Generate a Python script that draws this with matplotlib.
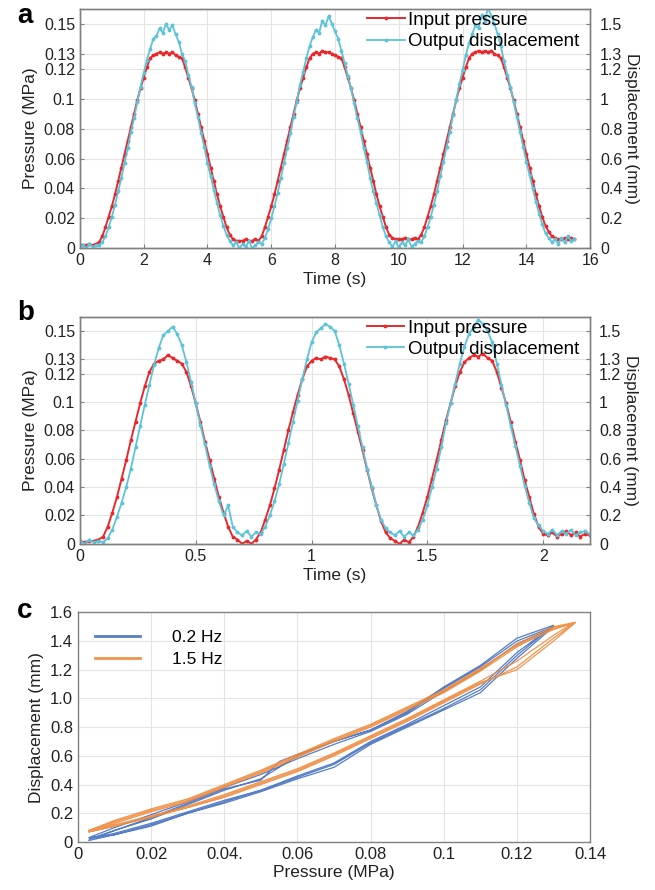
import numpy as np
import matplotlib
matplotlib.use("Agg")
import matplotlib.pyplot as plt

plt.rcParams['font.family'] = ['Liberation Sans', 'DejaVu Sans']

# ---------------- data ----------------
# panel a: sampled every 0.1 s from 0 to 15.5 s
time_a = np.round(np.arange(0, 15.55, 0.1), 2)
pressure_a = [
    0.002, 0.002, 0.002, 0.003, 0.002, 0.003, 0.004, 0.008, 0.014, 0.021,
    0.028, 0.036, 0.045, 0.054, 0.063, 0.072, 0.081, 0.090, 0.099, 0.107,
    0.114, 0.121, 0.127, 0.129, 0.130, 0.131, 0.130, 0.131, 0.130, 0.131,
    0.129, 0.128, 0.127, 0.121, 0.114, 0.107, 0.099, 0.090, 0.081, 0.072,
    0.063, 0.054, 0.045, 0.036, 0.028, 0.021, 0.014, 0.009, 0.006, 0.005,
    0.005, 0.005, 0.006, 0.005, 0.005, 0.006, 0.005, 0.008, 0.014, 0.021,
    0.028, 0.036, 0.045, 0.054, 0.063, 0.072, 0.081, 0.090, 0.099, 0.107,
    0.114, 0.121, 0.127, 0.130, 0.131, 0.130, 0.132, 0.131, 0.131, 0.130,
    0.129, 0.128, 0.127, 0.121, 0.114, 0.107, 0.099, 0.090, 0.081, 0.072,
    0.063, 0.054, 0.045, 0.036, 0.028, 0.021, 0.014, 0.009, 0.007, 0.006,
    0.006, 0.006, 0.007, 0.006, 0.006, 0.007, 0.006, 0.009, 0.014, 0.021,
    0.028, 0.036, 0.045, 0.054, 0.063, 0.072, 0.081, 0.090, 0.099, 0.107,
    0.114, 0.121, 0.127, 0.130, 0.131, 0.132, 0.131, 0.132, 0.131, 0.132,
    0.130, 0.129, 0.127, 0.121, 0.114, 0.107, 0.099, 0.090, 0.081, 0.072,
    0.063, 0.054, 0.045, 0.036, 0.028, 0.021, 0.015, 0.011, 0.008, 0.007,
    0.006, 0.006, 0.007, 0.006, 0.007, 0.006,
]
displacement_a = [
    0.01, 0.02, 0.00, 0.03, 0.01, 0.02, 0.02, 0.04, 0.08, 0.14,
    0.21, 0.29, 0.38, 0.47, 0.57, 0.67, 0.78, 0.87, 0.98, 1.08,
    1.17, 1.26, 1.33, 1.40, 1.42, 1.47, 1.44, 1.50, 1.46, 1.49,
    1.43, 1.38, 1.30, 1.25, 1.16, 1.08, 0.97, 0.88, 0.77, 0.68,
    0.57, 0.48, 0.39, 0.30, 0.22, 0.15, 0.09, 0.05, 0.02, 0.04,
    0.00, 0.03, 0.01, 0.05, 0.00, 0.02, 0.04, 0.03, 0.07, 0.13,
    0.20, 0.28, 0.37, 0.47, 0.57, 0.67, 0.77, 0.88, 0.98, 1.09,
    1.18, 1.27, 1.35, 1.41, 1.46, 1.44, 1.52, 1.49, 1.55, 1.50,
    1.45, 1.40, 1.32, 1.24, 1.15, 1.07, 0.97, 0.87, 0.78, 0.67,
    0.58, 0.47, 0.38, 0.30, 0.22, 0.14, 0.08, 0.04, 0.01, 0.05,
    0.00, 0.04, 0.02, 0.06, 0.01, 0.03, 0.05, 0.04, 0.08, 0.14,
    0.21, 0.29, 0.38, 0.48, 0.58, 0.68, 0.78, 0.89, 0.99, 1.10,
    1.19, 1.29, 1.37, 1.43, 1.49, 1.47, 1.56, 1.52, 1.61, 1.55,
    1.50, 1.43, 1.35, 1.25, 1.16, 1.08, 0.98, 0.88, 0.78, 0.68,
    0.58, 0.49, 0.40, 0.31, 0.23, 0.16, 0.10, 0.07, 0.04, 0.06,
    0.03, 0.07, 0.04, 0.08, 0.05, 0.06,
]

# panel b: sampled every 0.02 s from 0 to 2.2 s
time_b = np.round(np.arange(0, 2.201, 0.02), 3)
pressure_b = [
    0.002, 0.001, 0.002, 0.002, 0.003, 0.005, 0.012, 0.022, 0.033, 0.046,
    0.059, 0.073, 0.086, 0.099, 0.111, 0.121, 0.127, 0.129, 0.130, 0.133,
    0.131, 0.129, 0.127, 0.121, 0.111, 0.099, 0.086, 0.072, 0.059, 0.046,
    0.033, 0.022, 0.012, 0.005, 0.003, 0.000, 0.002, 0.000, 0.003, 0.008,
    0.017, 0.027, 0.039, 0.052, 0.066, 0.080, 0.093, 0.105, 0.116, 0.125,
    0.129, 0.131, 0.130, 0.132, 0.131, 0.130, 0.125, 0.116, 0.105, 0.092,
    0.079, 0.066, 0.052, 0.039, 0.027, 0.016, 0.008, 0.004, 0.002, 0.000,
    0.003, 0.001, 0.005, 0.012, 0.022, 0.033, 0.046, 0.059, 0.073, 0.087,
    0.099, 0.111, 0.121, 0.128, 0.131, 0.133, 0.132, 0.134, 0.131, 0.129,
    0.121, 0.110, 0.099, 0.086, 0.072, 0.059, 0.045, 0.033, 0.021, 0.012,
    0.007, 0.006, 0.008, 0.005, 0.007, 0.009, 0.006, 0.008, 0.005, 0.007,
    0.006,
]
displacement_b = [
    0.02, 0.00, 0.03, 0.01, 0.02, 0.01, 0.04, 0.10, 0.19, 0.29,
    0.40, 0.53, 0.68, 0.83, 0.98, 1.12, 1.26, 1.38, 1.47, 1.50,
    1.53, 1.48, 1.40, 1.28, 1.14, 0.99, 0.84, 0.70, 0.55, 0.42,
    0.30, 0.20, 0.27, 0.12, 0.08, 0.06, 0.09, 0.05, 0.08, 0.07,
    0.12, 0.20, 0.30, 0.42, 0.56, 0.71, 0.86, 1.01, 1.16, 1.30,
    1.42, 1.49, 1.52, 1.55, 1.53, 1.50, 1.40, 1.27, 1.13, 0.98,
    0.83, 0.68, 0.53, 0.40, 0.27, 0.17, 0.11, 0.08, 0.06, 0.09,
    0.05, 0.08, 0.06, 0.10, 0.17, 0.27, 0.40, 0.53, 0.68, 0.85,
    0.99, 1.13, 1.27, 1.39, 1.48, 1.53, 1.58, 1.55, 1.50, 1.42,
    1.27, 1.12, 0.98, 0.83, 0.69, 0.55, 0.41, 0.29, 0.18, 0.13,
    0.09, 0.07, 0.10, 0.06, 0.09, 0.07, 0.10, 0.06, 0.08, 0.09,
    0.07,
]

# panel c: hysteresis loops, three cycles each
blue_pressure = [
    0.003, 0.01, 0.02, 0.03, 0.04, 0.05, 0.06, 0.07, 0.075, 0.08, 0.09, 0.10, 0.11, 0.12, 0.13,
    0.12, 0.11, 0.10, 0.09, 0.08, 0.07, 0.06, 0.055, 0.05, 0.04, 0.03, 0.02, 0.01, 0.003,
    0.01, 0.02, 0.03, 0.04, 0.05, 0.06, 0.07, 0.08, 0.09, 0.10, 0.11, 0.12, 0.128,
    0.12, 0.11, 0.10, 0.09, 0.08, 0.07, 0.06, 0.05, 0.04, 0.03, 0.02, 0.01, 0.003,
    0.01, 0.02, 0.03, 0.04, 0.05, 0.06, 0.07, 0.08, 0.09, 0.10, 0.11, 0.12, 0.13,
    0.12, 0.11, 0.10, 0.09, 0.08, 0.07, 0.06, 0.05, 0.04, 0.03, 0.02, 0.01, 0.005,
]
blue_displacement = [
    0.01, 0.05, 0.11, 0.20, 0.27, 0.35, 0.44, 0.52, 0.60, 0.68, 0.80, 0.92, 1.04, 1.28, 1.50,
    1.40, 1.22, 1.07, 0.90, 0.78, 0.70, 0.61, 0.56, 0.43, 0.37, 0.27, 0.17, 0.08, 0.02,
    0.06, 0.13, 0.21, 0.29, 0.36, 0.46, 0.55, 0.70, 0.82, 0.95, 1.08, 1.32, 1.47,
    1.38, 1.20, 1.05, 0.89, 0.77, 0.68, 0.58, 0.47, 0.38, 0.28, 0.19, 0.10, 0.03,
    0.05, 0.12, 0.20, 0.28, 0.36, 0.45, 0.54, 0.69, 0.81, 0.93, 1.06, 1.30, 1.51,
    1.42, 1.23, 1.08, 0.91, 0.78, 0.70, 0.60, 0.44, 0.36, 0.26, 0.16, 0.08, 0.03,
]
orange_pressure = [
    0.003, 0.01, 0.02, 0.03, 0.04, 0.05, 0.06, 0.07, 0.08, 0.09, 0.10, 0.11, 0.12, 0.13, 0.136,
    0.13, 0.12, 0.11, 0.10, 0.09, 0.08, 0.07, 0.06, 0.05, 0.04, 0.03, 0.02, 0.01, 0.003,
    0.01, 0.02, 0.03, 0.04, 0.05, 0.06, 0.07, 0.08, 0.09, 0.10, 0.11, 0.12, 0.13, 0.135,
    0.13, 0.12, 0.11, 0.10, 0.09, 0.08, 0.07, 0.06, 0.05, 0.04, 0.03, 0.02, 0.01, 0.003,
    0.01, 0.02, 0.03, 0.04, 0.05, 0.06, 0.07, 0.08, 0.09, 0.10, 0.11, 0.12, 0.13, 0.136,
    0.13, 0.12, 0.11, 0.10, 0.09, 0.08, 0.07, 0.06, 0.05, 0.04, 0.03, 0.02, 0.01, 0.003,
]
orange_displacement = [
    0.07, 0.11, 0.17, 0.24, 0.31, 0.40, 0.49, 0.60, 0.72, 0.84, 0.97, 1.10, 1.22, 1.42, 1.53,
    1.50, 1.38, 1.20, 1.05, 0.93, 0.81, 0.71, 0.60, 0.49, 0.39, 0.29, 0.22, 0.14, 0.08,
    0.12, 0.18, 0.25, 0.33, 0.42, 0.51, 0.62, 0.74, 0.86, 0.99, 1.12, 1.26, 1.44, 1.52,
    1.49, 1.36, 1.19, 1.04, 0.92, 0.80, 0.70, 0.59, 0.48, 0.38, 0.28, 0.21, 0.13, 0.07,
    0.11, 0.18, 0.24, 0.32, 0.41, 0.50, 0.61, 0.73, 0.85, 0.98, 1.11, 1.20, 1.40, 1.53,
    1.48, 1.37, 1.21, 1.06, 0.94, 0.82, 0.72, 0.61, 0.50, 0.40, 0.30, 0.23, 0.15, 0.08,
]

pressure_ticks = [0, 0.02, 0.04, 0.06, 0.08, 0.1, 0.12, 0.13, 0.15]
pressure_ticklabels = ['0', '0.02', '0.04', '0.06', '0.08', '0.1', '0.12', '0.13', '0.15']
disp_ticks = [0, 0.2, 0.4, 0.6, 0.8, 1.0, 1.2, 1.3, 1.5]
disp_ticklabels = ['0', '0.2', '0.4', '0.6', '0.8', '1', '1.2', '1.3', '1.5']

c_xticks = [0, 0.02, 0.04, 0.06, 0.08, 0.1, 0.12, 0.14]
c_xticklabels = ['0', '0.02', '0.04.', '0.06', '0.08', '0.1', '0.12', '0.14']
c_yticks = [0, 0.2, 0.4, 0.6, 0.8, 1.0, 1.2, 1.4, 1.6]
c_yticklabels = ['0', '0.2', '0.4', '0.6', '0.8', '1.0', '1.2', '1.4', '1.6']

RED = '#e8282b'
CYAN = '#5cc3d9'
BLUE = '#4470c0'
ORANGE = '#ef8a3c'
SPINE = '#808080'
TXT = '#222222'
FS = 11.5


def style_axis(ax):
    for s in ax.spines.values():
        s.set_color(SPINE)
        s.set_linewidth(1.0)
    ax.tick_params(direction='in', length=3, width=0.8, color=SPINE,
                   labelsize=FS, labelcolor=TXT)


def time_panel(rect, t, p, d, xmax, xticks, xticklabels, letter, ly):
    ax = fig.add_axes(rect)
    ax2 = ax.twinx()
    l1, = ax.plot(t, p, '.-', color=RED, lw=1.4, ms=3.5, label='Input pressure')
    l2, = ax2.plot(t, d, '.-', color=CYAN, lw=1.3, ms=3.5, label='Output displacement')
    ax.set_xlim(0, xmax)
    ax.set_ylim(0, 0.16)
    ax2.set_ylim(0, 1.6)
    ax.set_xticks(xticks)
    ax.set_xticklabels(xticklabels)
    ax.set_yticks(pressure_ticks)
    ax.set_yticklabels(pressure_ticklabels)
    ax2.set_yticks(disp_ticks)
    ax2.set_yticklabels(disp_ticklabels)
    ax.grid(True, color='#e4e4e4', lw=0.8)
    ax.set_axisbelow(True)
    style_axis(ax)
    style_axis(ax2)
    ax2.tick_params(axis='y', pad=7)
    ax.set_xlabel('Time (s)', fontsize=FS + 1, color=TXT, labelpad=3)
    ax.set_ylabel('Pressure (MPa)', fontsize=FS + 1, color=TXT, labelpad=4)
    ax2.set_ylabel('Displacement (mm)', fontsize=FS + 1, color=TXT, rotation=270, labelpad=12)
    ax2.legend([l1, l2], ['Input pressure', 'Output displacement'], loc='upper right',
               bbox_to_anchor=(0.985, 1.0),
               frameon=False, fontsize=13.5, handlelength=2.0, handletextpad=0.2,
               borderaxespad=0.05, borderpad=0.1, labelspacing=0.22)
    fig.text(0.026, ly, letter, fontsize=20, fontweight='bold', va='center', ha='left')
    return ax, ax2


fig = plt.figure(figsize=(6.55, 8.9), dpi=100)

# panel a
time_panel([0.122, 0.721, 0.779, 0.269], time_a, pressure_a, displacement_a,
           16, list(range(0, 17, 2)), [str(v) for v in range(0, 17, 2)], 'a', 0.982)

# panel b
time_panel([0.122, 0.389, 0.778, 0.255], time_b, pressure_b, displacement_b,
           2.2, [0, 0.5, 1, 1.5, 2], ['0', '0.5', '1', '1.5', '2'], 'b', 0.648)

# panel c
axc = fig.add_axes([0.119, 0.054, 0.782, 0.258])
axc.plot(blue_pressure, blue_displacement, color=BLUE, lw=0.9, alpha=0.9, label='0.2 Hz')
axc.plot(orange_pressure, orange_displacement, color=ORANGE, lw=0.9, alpha=0.9, label='1.5 Hz')
axc.set_xlim(0, 0.14)
axc.set_ylim(0, 1.6)
axc.set_xticks(c_xticks)
axc.set_xticklabels(c_xticklabels)
axc.set_yticks(c_yticks)
axc.set_yticklabels(c_yticklabels)
axc.grid(True, color='#e4e4e4', lw=0.8)
axc.set_axisbelow(True)
style_axis(axc)
axc.tick_params(length=0, labelsize=12)
axc.set_xlabel('Pressure (MPa)', fontsize=FS + 1, color=TXT, labelpad=2)
axc.set_ylabel('Displacement (mm)', fontsize=FS + 1, color=TXT, labelpad=4)
leg = axc.legend(loc='upper left', frameon=False, fontsize=FS + 1, handlelength=2.6,
                 handletextpad=1.8, borderaxespad=0.6, labelspacing=0.4)
for h in leg.get_lines():
    h.set_linewidth(2.0)
fig.text(0.026, 0.313, 'c', fontsize=20, fontweight='bold', va='center', ha='left')

fig.savefig('out.png', dpi=100)
